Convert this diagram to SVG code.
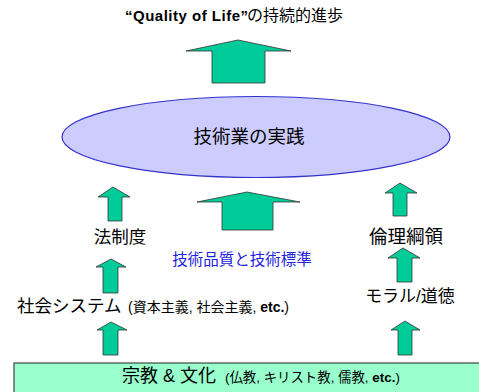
<svg xmlns="http://www.w3.org/2000/svg" width="479" height="392" viewBox="0 0 479 392">
<style>
.ar{fill:#00CC99;stroke:#333;stroke-width:0.8}
.t{font-family:"Liberation Sans","Noto Sans CJK JP",sans-serif;fill:#000}
.b{font-weight:bold}
</style>
<rect width="479" height="392" fill="#fff"/>
<g id="title">
<text class="t b" x="125" y="21" font-size="15" letter-spacing="0.5">“Quality of Life”</text>
<text class="t" x="247" y="21" font-size="16">の持続的進歩</text>
</g>
<g id="practice">
<ellipse cx="256" cy="137" rx="194" ry="40.5" fill="#CCCCFF" stroke="#3333CC" stroke-width="1.2"/>
<text class="t" x="249" y="143" font-size="18.5" text-anchor="middle">技術業の実践</text>
</g>
<g id="law"><text class="t" x="120" y="243" font-size="17.5" text-anchor="middle">法制度</text></g>
<g id="standards"><text class="t" x="242" y="265" font-size="15.5" text-anchor="middle" style="fill:#2222DD">技術品質と技術標準</text></g>
<g id="ethics"><text class="t" x="406" y="243" font-size="18.5" text-anchor="middle">倫理綱領</text></g>
<g id="society">
<text class="t" x="17" y="312" font-size="17.5">社会システム</text>
<text class="t" x="128" y="312" font-size="14">(資本主義, 社会主義, <tspan class="b">etc.</tspan>)</text>
</g>
<g id="moral"><text class="t" x="410" y="302" font-size="17" text-anchor="middle">モラル/道徳</text></g>
<g id="religion">
<rect x="14" y="363" width="470" height="34" fill="#99FFCC" stroke="#222" stroke-width="1"/>
<text class="t" x="122" y="382" font-size="18">宗教 &amp; 文化</text>
<text class="t" x="225" y="382" font-size="13.4">(仏教, キリスト教, 儒教, <tspan class="b">etc.</tspan>)</text>
</g>
<g id="connectors">
<polygon class="ar" points="212,83 212,51 186,51 238,40 291,51 265,51 265,83"/>
<polygon class="ar" points="108,221 108,197 98,197 113,187 130,197 122,197 122,221"/>
<polygon class="ar" points="222,230 222,202 197,202 247,192 300,202 273,202 273,230"/>
<polygon class="ar" points="393,216 393,193 385,193 400,183 417,193 407,193 407,216"/>
<polygon class="ar" points="397,282 397,258 388,258 403,248 420,258 412,258 412,282"/>
<polygon class="ar" points="103,293 103,267 96,267 111,259 126,267 118,267 118,293"/>
<polygon class="ar" points="103,355 103,330 97,330 111,322 127,330 118,330 118,355"/>
<polygon class="ar" points="398,355 398,330 391,330 405,321 420,330 412,330 412,355"/>
</g>
</svg>
